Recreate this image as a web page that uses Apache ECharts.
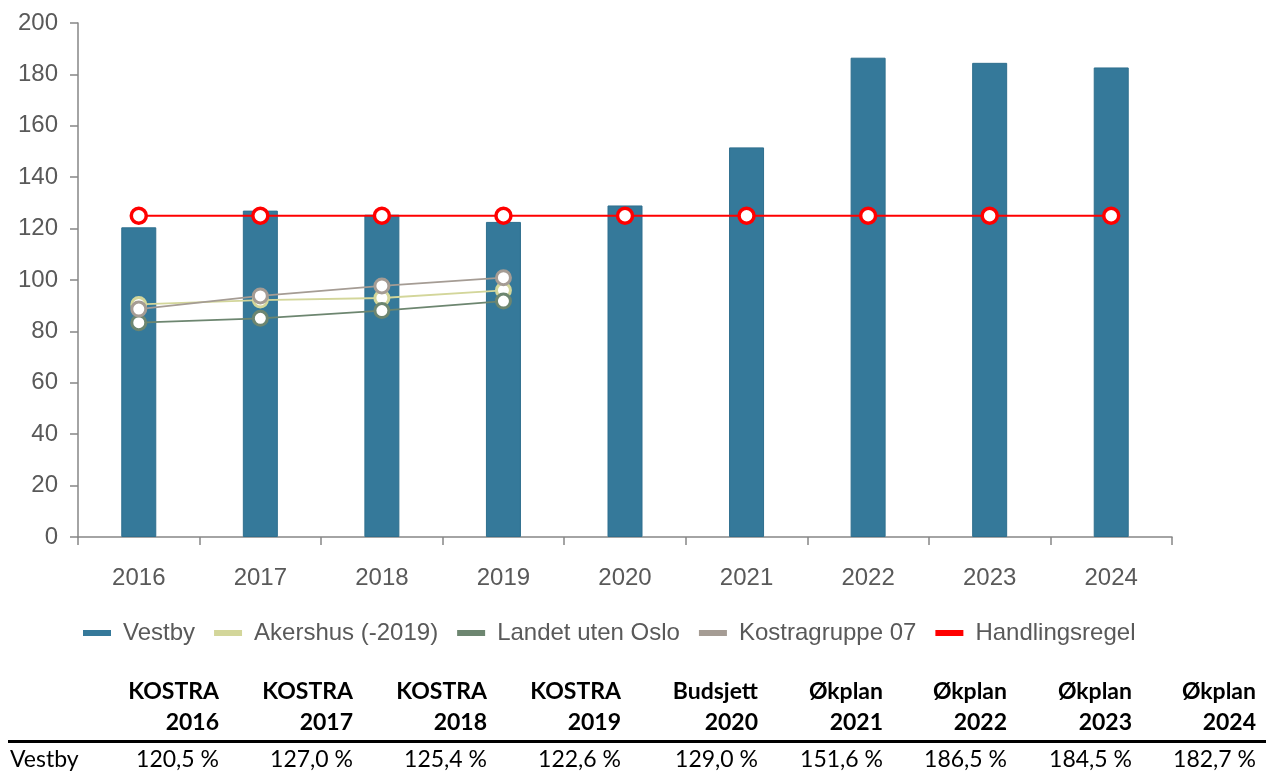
<!DOCTYPE html>
<html>
<head>
<meta charset="utf-8">
<script src="https://cdn.jsdelivr.net/npm/echarts@6/dist/echarts.min.js"></script>
<style>
html,body{margin:0;padding:0;background:#fff;}
#chart{position:absolute;left:0;top:0;width:1270px;height:660px;}
#tbl{position:absolute;left:0;top:0;width:1270px;height:772px;pointer-events:none;font-family:Lato,"Open Sans",sans-serif;font-size:23px;color:#000;}
#tbl .c{position:absolute;white-space:nowrap;line-height:23px;text-align:right;}
#tbl .b{font-weight:bold;}
#tbl .rule{position:absolute;left:8px;width:1258px;top:740px;height:3px;background:#000;}
</style>
</head>
<body>
<div id="chart"></div>
<div id="tbl"></div>
<script>
const categories = ['2016','2017','2018','2019','2020','2021','2022','2023','2024'];
const vestby = [120.5, 127.0, 125.4, 122.6, 129.0, 151.6, 186.5, 184.5, 182.7];
const akershus = [90.5, 92.2, 93.0, 96.0, null, null, null, null, null];
const landet = [83.4, 85.1, 88.1, 91.8, null, null, null, null, null];
const kostra07 = [88.7, 93.8, 97.7, 100.9, null, null, null, null, null];
const handlingsregel = [125, 125, 125, 125, 125, 125, 125, 125, 125];
const headerTop = ['KOSTRA','KOSTRA','KOSTRA','KOSTRA','Budsjett','Økplan','Økplan','Økplan','Økplan'];
const headerBottom = ['2016','2017','2018','2019','2020','2021','2022','2023','2024'];
const rowLabel = 'Vestby';

const chart = echarts.init(document.getElementById('chart'));
const txt = '#595959';
const ff = 'Liberation Sans, Arial, sans-serif';
function lineSeries(name, data, color){
  return {
    name: name, type: 'line', data: data, z: 3,
    symbol: 'circle', symbolSize: 14,
    lineStyle: {color: color, width: 1.8},
    itemStyle: {color: '#fff', borderColor: color, borderWidth: 3},
    emphasis: {disabled: true}
  };
}
chart.setOption({
  animation: false,
  textStyle: {fontFamily: ff},
  grid: {left: 78, right: 98, top: 23, bottom: 123},
  legend: {
    top: 616, left: 78,
    itemWidth: 28, itemHeight: 6, itemGap: 19,
    icon: 'rect',
    textStyle: {color: txt, fontSize: 24, fontFamily: ff, padding: [0, 0, 0, 7]},
    data: [
      {name: 'Vestby', itemStyle: {color: '#35799a', borderWidth: 0}},
      {name: 'Akershus (-2019)', itemStyle: {color: '#d3d69a', borderWidth: 0}},
      {name: 'Landet uten Oslo', itemStyle: {color: '#6d8670', borderWidth: 0}},
      {name: 'Kostragruppe 07', itemStyle: {color: '#a59c94', borderWidth: 0}},
      {name: 'Handlingsregel', itemStyle: {color: '#ff0000', borderWidth: 0}}
    ]
  },
  xAxis: {
    type: 'category', data: categories, boundaryGap: true,
    axisLine: {lineStyle: {color: '#868686', width: 1.5}},
    axisTick: {show: true, length: 8, alignWithLabel: false, lineStyle: {color: '#868686', width: 1.5}},
    axisLabel: {color: txt, fontSize: 24, margin: 29}
  },
  yAxis: {
    type: 'value', min: 0, max: 200, interval: 20,
    splitLine: {show: false},
    axisLine: {show: true, lineStyle: {color: '#868686', width: 1.5}},
    axisTick: {show: true, length: 8, lineStyle: {color: '#868686', width: 1.5}},
    axisLabel: {color: txt, fontSize: 24, margin: 20}
  },
  series: [
    {name: 'Vestby', type: 'bar', data: vestby, barWidth: 35,
     itemStyle: {color: '#35799a', borderColor: '#2f6f8e', borderWidth: 1}, z: 2},
    lineSeries('Akershus (-2019)', akershus, '#d3d69a'),
    lineSeries('Landet uten Oslo', landet, '#6d8670'),
    lineSeries('Kostragruppe 07', kostra07, '#a59c94'),
    {name: 'Handlingsregel', type: 'line', data: handlingsregel, z: 4,
     symbol: 'circle', symbolSize: 15,
     lineStyle: {color: '#ff0000', width: 2},
     itemStyle: {color: '#fff', borderColor: '#ff0000', borderWidth: 3.5}}
  ]
});

// table built from the arrays
const colRight = [219, 353, 487, 621, 758, 883, 1007, 1132, 1256];
const rowTop = [679, 710, 747];
const tbl = document.getElementById('tbl');
let html = '<div class="rule"></div>';
html += '<div class="c" style="left:10px;top:' + rowTop[2] + 'px;text-align:left">' + rowLabel + '</div>';
for (let i = 0; i < headerTop.length; i++) {
  const r = 1270 - colRight[i];
  html += '<div class="c b" style="right:' + r + 'px;top:' + rowTop[0] + 'px">' + headerTop[i] + '</div>';
  html += '<div class="c b" style="right:' + r + 'px;top:' + rowTop[1] + 'px">' + headerBottom[i] + '</div>';
  html += '<div class="c" style="right:' + r + 'px;top:' + rowTop[2] + 'px">' + vestby[i].toFixed(1).replace('.', ',') + '\u00a0%</div>';
}
tbl.innerHTML = html;
</script>
</body>
</html>
